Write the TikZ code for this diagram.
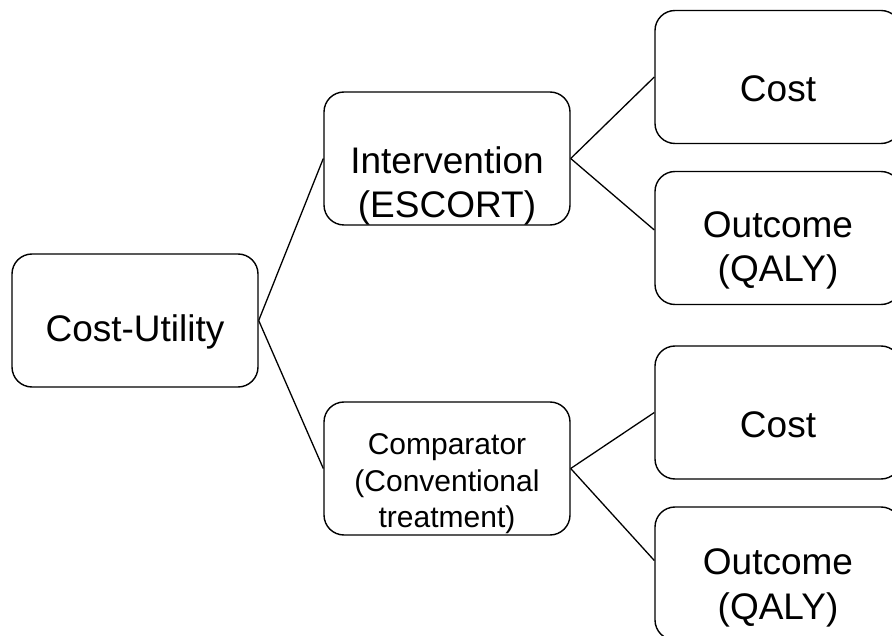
\documentclass[tikz,border=0pt]{standalone}
\usepackage{fontspec}
\setmainfont{Liberation Sans}

\tikzset{
  box/.style={draw, line width=1.4pt, rounded corners=20pt, minimum width=246pt, minimum height=133pt},
  txt/.style={align=center, inner sep=0pt, font=\fontsize{37}{44.5}\selectfont},
  smalltxt/.style={txt, font=\fontsize{30}{36.5}\selectfont},
  link/.style={line width=1.3pt}
}

\begin{document}
\begin{tikzpicture}[x=1pt, y=-1pt]
\useasboundingbox (0,0) rectangle (892,636);
\clip (0,0) rectangle (892,636);
% boxes
\node[box] (cu) at (135,320.5) {};
\node[box] (int) at (447,158.5) {};
\node[box] (comp) at (447,468.5) {};
\node[box] (costA) at (778,77) {};
\node[box] (outA) at (778,238) {};
\node[box] (costB) at (778,412.5) {};
\node[box] (outB) at (778,573.5) {};
% texts
\node[txt] (cuT) at (135,332) {Cost-Utility};
\node[txt] (intT) at (447,186) {Intervention\\(ESCORT)};
\node[smalltxt] (compT) at (447,484) {Comparator\\(Conventional\\treatment)};
\node[txt] (costAT) at (778,89) {Cost};
\node[txt] (outAT) at (778,250.5) {Outcome\\(QALY)};
\node[txt] (costBT) at (778,425) {Cost};
\node[txt] (outBT) at (778,588) {Outcome\\(QALY)};
% links
\draw[link] (cu.east) -- (int.west);
\draw[link] (cu.east) -- (comp.west);
\draw[link] (int.east) -- (costA.west);
\draw[link] (int.east) -- ([yshift=8pt]outA.west);
\draw[link] (comp.east) -- (costB.west);
\draw[link] (comp.east) -- ([yshift=13pt]outB.west);
\end{tikzpicture}
\end{document}
